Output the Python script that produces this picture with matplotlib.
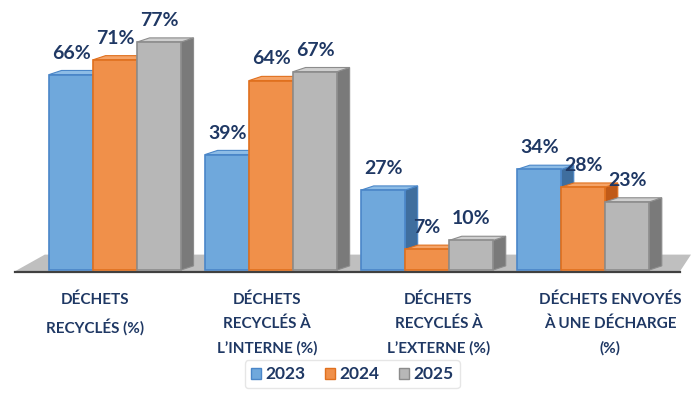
import matplotlib
matplotlib.use("Agg")
import matplotlib.pyplot as plt
from matplotlib.patches import Polygon, Patch
import numpy as np

categories = ["DÉCHETS\nRECYCLÉS (%)", "DÉCHETS\nRECYCLÉS À\nL’INTERNE (%)",
              "DÉCHETS\nRECYCLÉS À\nL’EXTERNE (%)", "DÉCHETS ENVOYÉS\nÀ UNE DÉCHARGE\n(%)"]
years = ["2023", "2024", "2025"]
v2023 = [66, 39, 27, 34]
v2024 = [71, 64, 7, 28]
v2025 = [77, 67, 10, 23]

NAVY = "#1F3864"
fronts = ["#6FA8DC", "#F0904A", "#B7B7B7"]
edges = ["#4A86C8", "#E0701E", "#8C8C8C"]
sides = ["#3F6E9E", "#C05A18", "#7A7A7A"]
tops = ["#8DBCE6", "#F5A468", "#CFCFCF"]

plt.rcParams["font.family"] = ["Lato", "DejaVu Sans"]
fig = plt.figure(figsize=(6.91, 4.05), dpi=100)
ax = fig.add_axes([0, 0, 1, 1])
ax.set_xlim(-0.737, 3.69)
ax.set_ylim(-45.6, 91.2)
ax.axis("off")

x = np.arange(len(categories))
w = 0.282
dx, dy = 0.08, 1.4

# floor
ax.add_patch(Polygon([(-0.64, -0.4), (3.62, -0.4), (3.69, 5.2), (-0.45, 5.2)],
                     closed=True, facecolor="#BFBFBF", edgecolor="none", zorder=0))
ax.plot([-0.64, 3.62], [-0.7, -0.7], color="#404040", lw=1.6, zorder=0)

for i, vals in enumerate([v2023, v2024, v2025]):
    xs = x + (i - 1) * w
    for xc, v in zip(xs, vals):
        l, r = xc - w / 2, xc + w / 2
        ax.add_patch(Polygon([(r, 0), (r + dx, dy), (r + dx, v + dy), (r, v)],
                             facecolor=sides[i], edgecolor=edges[i], lw=0.8, zorder=2 + 2 * i))
        ax.add_patch(Polygon([(l, v), (l + dx, v + dy), (r + dx, v + dy), (r, v)],
                             facecolor=tops[i], edgecolor=edges[i], lw=0.8, zorder=2 + 2 * i))
    ax.bar(xs, vals, w, color=fronts[i], edgecolor=edges[i], linewidth=1.2,
           zorder=3 + 2 * i)
    for xc, v in zip(xs, vals):
        ax.text(xc, v + dy + 3.0, f"{v}%", ha="center", va="bottom",
                fontsize=14, fontweight="bold", color=NAVY, zorder=10)

# category labels sit on the (perspective) floor front, spaced wider than the bars
lab_x = -0.128 + 1.1 * x
for xc, lab in zip(lab_x, categories):
    ax.text(xc, -7.6, lab, ha="center", va="top", fontsize=11,
            fontweight="bold", color=NAVY, linespacing=1.85)

handles = [Patch(facecolor=fronts[i], edgecolor=edges[i], label=years[i]) for i in range(3)]
leg = fig.legend(handles=handles, loc="center", bbox_to_anchor=(0.51, 0.076), ncol=3,
                 frameon=True, fontsize=12.5, handlelength=0.6, handleheight=0.6,
                 handletextpad=0.25, columnspacing=1.1, borderpad=0.35)
leg.get_frame().set_edgecolor("#E0E0E0")
leg.get_frame().set_linewidth(1)
for t in leg.get_texts():
    t.set_color(NAVY)
    t.set_fontweight("bold")

fig.savefig("out.png", dpi=100)
